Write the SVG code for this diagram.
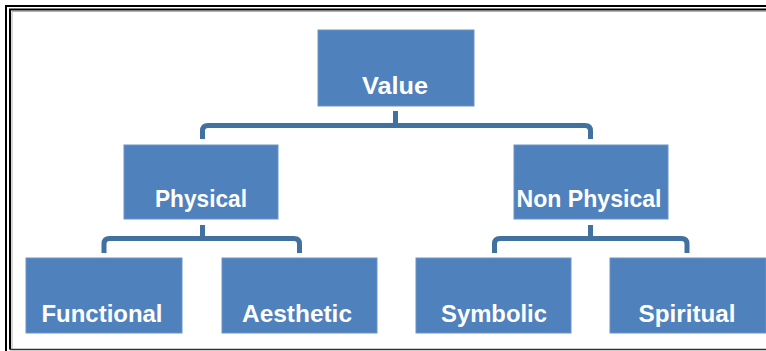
<svg xmlns="http://www.w3.org/2000/svg" width="766" height="351" viewBox="0 0 766 351">
<style>
.box{fill:#4F81BD;stroke:#6A93C6;stroke-width:1}
.lbl{font-family:"Liberation Sans",Arial,sans-serif;font-weight:bold;font-size:23px;fill:#FFFFFF;text-anchor:middle}
.conn{fill:none;stroke:#41719F;stroke-width:5;stroke-linejoin:round}
</style>
<rect width="766" height="351" fill="#FFFFFF"/>
<g id="frame" fill="none">
<path d="M6,351 V6 H766" stroke="#000" stroke-width="2"/>
<path d="M10,349.5 V9.5 H766" stroke="#000" stroke-width="2"/>
<path d="M12,349 V11.5 H766" stroke="#B0B0B0" stroke-width="1"/>
<path d="M10,349.5 H766" stroke="#333" stroke-width="1.5"/>
</g>
<g id="connectors">
<path class="conn" d="M395.5,111 V125.5"/>
<path class="conn" d="M202.5,139 V131 Q202.5,125.5 208,125.5 H585 Q590.5,125.5 590.5,131 V139"/>
<path class="conn" d="M202.5,225 V238.5"/>
<path class="conn" d="M104,253 V244 Q104,238.5 109.5,238.5 H294 Q299.5,238.5 299.5,244 V253"/>
<path class="conn" d="M590.5,225 V238.5"/>
<path class="conn" d="M494.5,253 V244 Q494.5,238.5 500,238.5 H681.5 Q687,238.5 687,244 V253"/>
</g>
<g id="value">
<rect class="box" x="318" y="30" width="156" height="76"/>
<text class="lbl" x="395" y="94" textLength="66" lengthAdjust="spacingAndGlyphs">Value</text>
</g>
<g id="physical">
<rect class="box" x="124" y="145" width="154" height="74"/>
<text class="lbl" x="201" y="207" textLength="92" lengthAdjust="spacingAndGlyphs">Physical</text>
</g>
<g id="nonphysical">
<rect class="box" x="514" y="145" width="154" height="74"/>
<text class="lbl" x="589" y="207" textLength="145" lengthAdjust="spacingAndGlyphs">Non Physical</text>
</g>
<g id="functional">
<rect class="box" x="26" y="258" width="156" height="75"/>
<text class="lbl" x="102" y="322" textLength="121" lengthAdjust="spacingAndGlyphs">Functional</text>
</g>
<g id="aesthetic">
<rect class="box" x="222" y="258" width="155" height="75"/>
<text class="lbl" x="297" y="322" textLength="110" lengthAdjust="spacingAndGlyphs">Aesthetic</text>
</g>
<g id="symbolic">
<rect class="box" x="416" y="258" width="155" height="75"/>
<text class="lbl" x="494" y="322" textLength="106" lengthAdjust="spacingAndGlyphs">Symbolic</text>
</g>
<g id="spiritual">
<rect class="box" x="610" y="258" width="156" height="75"/>
<text class="lbl" x="687" y="322" textLength="97" lengthAdjust="spacingAndGlyphs">Spiritual</text>
</g>
</svg>
